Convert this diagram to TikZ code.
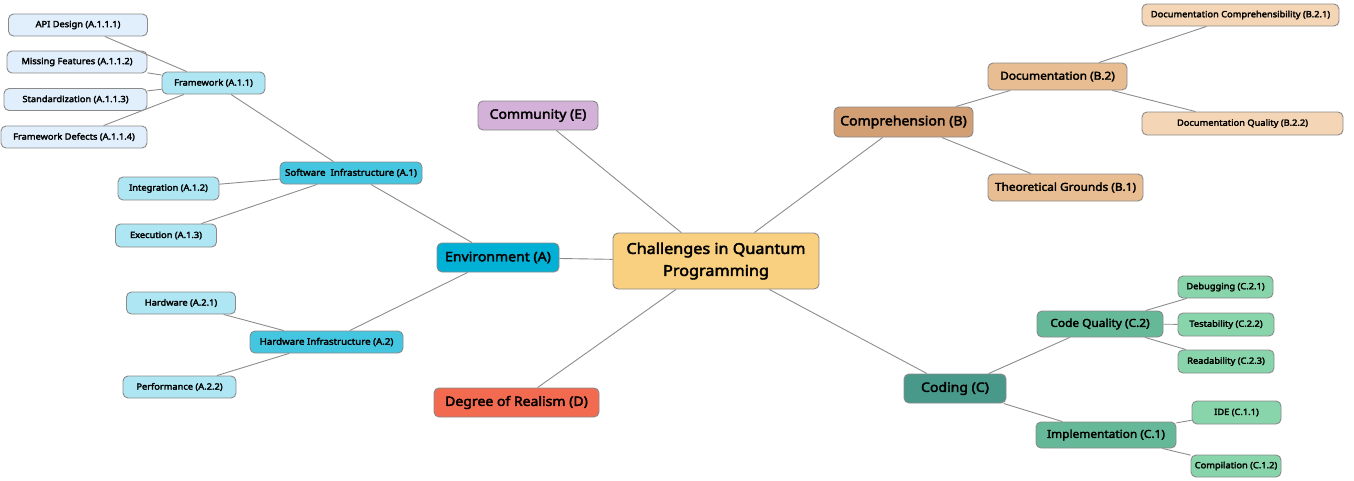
\documentclass[tikz,border=0pt]{standalone}
\usepackage{fontspec}
\setmainfont{Noto Sans}
\newfontfamily\bnoto{Noto Sans}[FakeBold=2.8,FakeStretch=1.08]
\definecolor{lineg}{HTML}{8C8C8C}
\definecolor{bord}{HTML}{8A8A8A}
\definecolor{cCenter}{HTML}{F9CF80}
\definecolor{cEnv}{HTML}{00B1D5}
\definecolor{cAone}{HTML}{45C6E0}
\definecolor{cAtwo}{HTML}{AEE6F3}
\definecolor{cAthree}{HTML}{E0EFFB}
\definecolor{cComm}{HTML}{D4B1D8}
\definecolor{cDeg}{HTML}{F26A50}
\definecolor{cB}{HTML}{D29E74}
\definecolor{cBtwo}{HTML}{E7BD91}
\definecolor{cBthree}{HTML}{F4D6B6}
\definecolor{cC}{HTML}{48998A}
\definecolor{cCtwo}{HTML}{65B898}
\definecolor{cCthree}{HTML}{88D5AB}
\tikzset{
  box/.style={draw=bord, line width=0.9pt, rounded corners=5pt, inner sep=0pt, align=center},
  conn/.style={draw=lineg, line width=0.9pt},
  fcenter/.style={font=\bnoto\fontsize{15}{22}\selectfont},
  fone/.style={font=\bnoto\fontsize{13}{15}\selectfont},
  ftwo/.style={font=\bnoto\fontsize{11}{13}\selectfont},
  ftwoA/.style={font=\bnoto\fontsize{9}{11}\selectfont},
  fleaf/.style={font=\bnoto\fontsize{8.6}{10}\selectfont},
}
\begin{document}
\begin{tikzpicture}[x=1pt,y=-1pt]
\useasboundingbox (0,0) rectangle (1354,480);
% center
\node[box, fill=cCenter, minimum width=206pt, minimum height=56pt, fcenter] (ctr) at (716,261) {Challenges in Quantum\\Programming};
% level 1
\node[box, fill=cEnv, minimum width=122pt, minimum height=29pt, fone] (env) at (498,257.5) {Environment (A)};
\node[box, fill=cComm, minimum width=120pt, minimum height=29pt, fone] (comm) at (538,115.5) {Community (E)};
\node[box, fill=cDeg, minimum width=165pt, minimum height=29pt, fone] (deg) at (516.5,402.5) {Degree of Realism (D)};
\node[box, fill=cB, minimum width=139pt, minimum height=30pt, fone] (comp) at (903.5,122) {Comprehension (B)};
\node[box, fill=cC, minimum width=102pt, minimum height=29pt, fone] (cod) at (955,388.5) {Coding (C)};
% A level 2
\node[box, fill=cAone, minimum width=142pt, minimum height=22pt, ftwoA] (a1) at (351,173) {Software\ \ Infrastructure (A.1)};
\node[box, fill=cAone, minimum width=153pt, minimum height=22pt, ftwoA] (a2) at (326.5,342) {Hardware Infrastructure (A.2)};
% A level 3
\node[box, fill=cAtwo, minimum width=103pt, minimum height=22pt, fleaf] (a11) at (213.5,83) {Framework (A.1.1)};
\node[box, fill=cAtwo, minimum width=101pt, minimum height=23pt, fleaf] (a12) at (168.5,188.5) {Integration (A.1.2)};
\node[box, fill=cAtwo, minimum width=101pt, minimum height=23pt, fleaf] (a13) at (166,235.5) {Execution (A.1.3)};
\node[box, fill=cAtwo, minimum width=109pt, minimum height=22pt, fleaf] (a21) at (181,303) {Hardware (A.2.1)};
\node[box, fill=cAtwo, minimum width=113pt, minimum height=22pt, fleaf] (a22) at (179.5,387) {Performance (A.2.2)};
% A level 4
\node[box, fill=cAthree, minimum width=139pt, minimum height=22pt, fleaf] (a111) at (78,25) {API Design (A.1.1.1)};
\node[box, fill=cAthree, minimum width=140pt, minimum height=22pt, fleaf] (a112) at (77,62) {Missing Features (A.1.1.2)};
\node[box, fill=cAthree, minimum width=143pt, minimum height=22pt, fleaf] (a113) at (75.5,99.5) {Standardization (A.1.1.3)};
\node[box, fill=cAthree, minimum width=146pt, minimum height=22pt, fleaf] (a114) at (74,137) {Framework Defects (A.1.1.4)};
% B
\node[box, fill=cBtwo, minimum width=139pt, minimum height=27pt, ftwo] (b2) at (1057.5,76.5) {Documentation (B.2)};
\node[box, fill=cBtwo, minimum width=155pt, minimum height=27pt, ftwo] (b1) at (1065.5,187.5) {Theoretical Grounds (B.1)};
\node[box, fill=cBthree, minimum width=197pt, minimum height=22pt, fleaf] (b21) at (1240.5,15) {Documentation Comprehensibility (B.2.1)};
\node[box, fill=cBthree, minimum width=201pt, minimum height=23pt, fleaf] (b22) at (1242.5,123.5) {Documentation Quality (B.2.2)};
% C
\node[box, fill=cCtwo, minimum width=126pt, minimum height=26pt, ftwo] (c2) at (1100,324) {Code Quality (C.2)};
\node[box, fill=cCtwo, minimum width=140pt, minimum height=26pt, ftwo] (c1) at (1106,435) {Implementation (C.1)};
\node[box, fill=cCthree, minimum width=95pt, minimum height=22pt, fleaf] (c21) at (1225.5,287) {Debugging (C.2.1)};
\node[box, fill=cCthree, minimum width=96pt, minimum height=23pt, fleaf] (c22) at (1226,324.5) {Testability (C.2.2)};
\node[box, fill=cCthree, minimum width=96pt, minimum height=23pt, fleaf] (c23) at (1226,361.5) {Readability (C.2.3)};
\node[box, fill=cCthree, minimum width=89pt, minimum height=23pt, fleaf] (c11) at (1236.5,412.5) {IDE (C.1.1)};
\node[box, fill=cCthree, minimum width=90pt, minimum height=22pt, fleaf] (c12) at (1236,466) {Compilation (C.1.2)};
% connectors
\draw[conn] (ctr) -- (env);
\draw[conn] (ctr) -- (comm);
\draw[conn] (ctr) -- (deg);
\draw[conn] (ctr) -- (comp);
\draw[conn] (ctr) -- (cod);
\draw[conn] (env) -- (a1);
\draw[conn] (env) -- (a2);
\draw[conn] (a1) -- (a11);
\draw[conn] (a1) -- (a12);
\draw[conn] (a1) -- (a13);
\draw[conn] (a11) -- (a111);
\draw[conn] (a11) -- (a112);
\draw[conn] (a11) -- (a113);
\draw[conn] (a11) -- (a114);
\draw[conn] (a2) -- (a21);
\draw[conn] (a2) -- (a22);
\draw[conn] (comp) -- (b2);
\draw[conn] (comp) -- (b1);
\draw[conn] (b2) -- (b21);
\draw[conn] (b2) -- (b22);
\draw[conn] (cod) -- (c2);
\draw[conn] (cod) -- (c1);
\draw[conn] (c2) -- (c21);
\draw[conn] (c2) -- (c22);
\draw[conn] (c2) -- (c23);
\draw[conn] (c1) -- (c11);
\draw[conn] (c1) -- (c12);
\end{tikzpicture}
\end{document}
